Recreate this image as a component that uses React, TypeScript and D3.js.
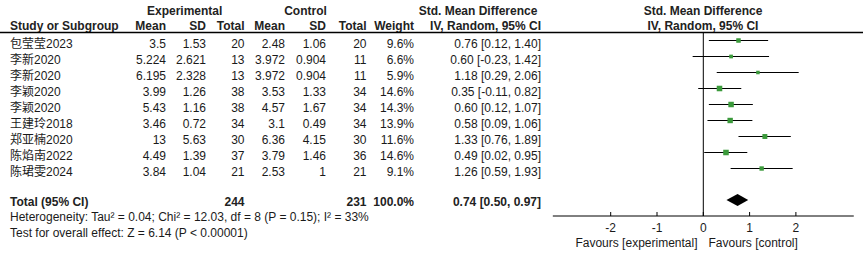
import React from "react";
import * as d3 from "d3";

const studies = ["包莹莹2023", "李新2020", "李新2020", "李颖2020", "李颖2020", "王建玲2018", "郑亚楠2020", "陈焰南2022", "陈珺雯2024"];
const expMean = ["3.5", "5.224", "6.195", "3.99", "5.43", "3.46", "13", "4.49", "3.84"];
const expSD = ["1.53", "2.621", "2.328", "1.26", "1.16", "0.72", "5.63", "1.39", "1.04"];
const expTotal = ["20", "13", "13", "38", "38", "34", "30", "37", "21"];
const ctrlMean = ["2.48", "3.972", "3.972", "3.53", "4.57", "3.1", "6.36", "3.79", "2.53"];
const ctrlSD = ["1.06", "0.904", "0.904", "1.33", "1.67", "0.49", "4.15", "1.46", "1"];
const ctrlTotal = ["20", "11", "11", "34", "34", "34", "30", "36", "21"];
const weights = [9.6, 6.6, 5.9, 14.6, 14.3, 13.9, 11.6, 14.6, 9.1];
const smd = [0.76, 0.60, 1.18, 0.35, 0.60, 0.58, 1.33, 0.49, 1.26];
const lower = [0.12, -0.23, 0.29, -0.11, 0.12, 0.09, 0.76, 0.02, 0.59];
const upper = [1.40, 1.42, 2.06, 0.82, 1.07, 1.06, 1.89, 0.95, 1.93];
const total = { expN: "244", ctrlN: "231", weight: "100.0%", est: 0.74, lo: 0.50, hi: 0.97 };
const tickValues = [-2, -1, 0, 1, 2];
const axisExtent = [-3.25, 3.25];

const FONT = "'Liberation Sans', Arial, 'Noto Sans CJK SC', sans-serif";
const FS = 12;
const TXT = "#1a1a1a";

export default function App() {
  const x = d3.scaleLinear().domain([-2, 2]).range([703.3 - 92.6, 703.3 + 92.6]);
  const y = d3.scalePoint<number>().domain(d3.range(studies.length)).range([40.5, 168.5]);
  const side = d3.scaleSqrt().domain([0, 100]).range([0, 14.5]);
  const axisY = 216;
  const totalY = 200;

  const cols = [
    { x: 166, vals: expMean },
    { x: 206, vals: expSD },
    { x: 244.5, vals: expTotal },
    { x: 285, vals: ctrlMean },
    { x: 326, vals: ctrlSD },
    { x: 366.5, vals: ctrlTotal },
  ];
  const fmt = (v: number) => v.toFixed(2);

  return (
    <svg width={864} height={256} style={{ position: "absolute", left: 0, top: 0, background: "#fff" }} fontFamily={FONT} fontSize={FS} fill={TXT}>
      {/* headers */}
      <g fontWeight="bold" fill="#222">
        <text x={184.7} y={14.5} textAnchor="middle">Experimental</text>
        <text x={305.5} y={14.5} textAnchor="middle">Control</text>
        <text x={478} y={14.5} textAnchor="middle">Std. Mean Difference</text>
        <text x={703} y={14.5} textAnchor="middle">Std. Mean Difference</text>
        <text x={10} y={30} textAnchor="start">Study or Subgroup</text>
        <text x={166} y={30} textAnchor="end">Mean</text>
        <text x={206} y={30} textAnchor="end">SD</text>
        <text x={244.5} y={30} textAnchor="end">Total</text>
        <text x={285} y={30} textAnchor="end">Mean</text>
        <text x={326} y={30} textAnchor="end">SD</text>
        <text x={366.5} y={30} textAnchor="end">Total</text>
        <text x={414} y={30} textAnchor="end">Weight</text>
        <text x={541} y={30} textAnchor="end">IV, Random, 95% CI</text>
        <text x={703} y={30} textAnchor="middle">IV, Random, 95% CI</text>
      </g>
      <line x1={0} x2={863} y1={32.5} y2={32.5} stroke="#000" strokeWidth={1.5} />

      {/* rows */}
      {studies.map((s, i) => {
        const ry = y(i)!;
        const ty = ry + 7.5;
        const sz = side(weights[i]);
        return (
          <g key={i}>
            <text x={10} y={ty}>{s}</text>
            {cols.map((c, j) => (
              <text key={j} x={c.x} y={ty} textAnchor="end">{c.vals[i]}</text>
            ))}
            <text x={414} y={ty} textAnchor="end">{weights[i].toFixed(1)}%</text>
            <text x={541} y={ty} textAnchor="end">{`${fmt(smd[i])} [${fmt(lower[i])}, ${fmt(upper[i])}]`}</text>
            <line x1={x(lower[i])} x2={x(upper[i])} y1={ry} y2={ry} stroke="#000" strokeWidth={1.2} />
            <rect x={x(smd[i]) - sz / 2} y={ry - sz / 2} width={sz} height={sz} fill="#3b9a3b" />
          </g>
        );
      })}

      {/* total */}
      <g fontWeight="bold" fill="#222">
        <text x={10} y={206}>Total (95% CI)</text>
        <text x={244.5} y={206} textAnchor="end">{total.expN}</text>
        <text x={366.5} y={206} textAnchor="end">{total.ctrlN}</text>
        <text x={414} y={206} textAnchor="end">{total.weight}</text>
        <text x={541} y={206} textAnchor="end">{`${fmt(total.est)} [${fmt(total.lo)}, ${fmt(total.hi)}]`}</text>
      </g>
      <path
        d={`M${x(total.lo)},${totalY} L${x(total.est)},${totalY - 6} L${x(total.hi)},${totalY} L${x(total.est)},${totalY + 6} Z`}
        fill="#000"
      />
      <text x={10} y={221}>Heterogeneity: Tau² = 0.04; Chi² = 12.03, df = 8 (P = 0.15); I² = 33%</text>
      <text x={10} y={236.5}>Test for overall effect: Z = 6.14 (P &lt; 0.00001)</text>

      {/* plot axes */}
      <line x1={x(0)} x2={x(0)} y1={32.5} y2={axisY} stroke="#000" strokeWidth={1} />
      <line x1={x(axisExtent[0])} x2={x(axisExtent[1])} y1={axisY} y2={axisY} stroke="#000" strokeWidth={1} />
      {tickValues.map((t) => (
        <g key={t}>
          <line x1={x(t)} x2={x(t)} y1={axisY - 4} y2={axisY} stroke="#000" strokeWidth={1} />
          <text x={x(t)} y={231.5} textAnchor="middle">{t}</text>
        </g>
      ))}
      <text x={697.5} y={246.5} textAnchor="end">Favours [experimental]</text>
      <text x={708.5} y={246.5} textAnchor="start">Favours [control]</text>
    </svg>
  );
}
